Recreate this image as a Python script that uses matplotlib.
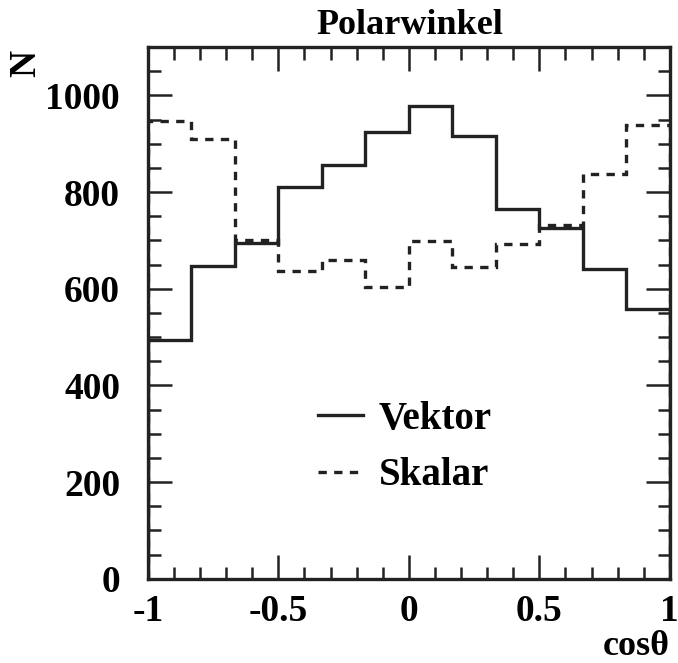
import numpy as np
import matplotlib.pyplot as plt
from matplotlib.ticker import MultipleLocator

# bin edges in cos(theta): 12 bins from -1 to 1
edges = np.linspace(-1, 1, 13)
vektor = [493, 647, 695, 810, 857, 924, 979, 915, 764, 726, 640, 558]
skalar = [948, 909, 700, 637, 659, 604, 698, 644, 693, 732, 838, 938]

xticks = [-1, -0.5, 0, 0.5, 1]
xticklabels = ['-1', '-0.5', '0', '0.5', '1']
yticks = [0, 200, 400, 600, 800, 1000]

plt.rcParams['font.family'] = ['Liberation Serif', 'DejaVu Serif']
plt.rcParams['font.weight'] = 'bold'

fig = plt.figure(figsize=(6.78, 6.63), dpi=100)
ax = fig.add_axes([0.218, 0.127, 0.770, 0.802])

ax.stairs(vektor, edges, color='#222222', lw=2.4, label='Vektor')
ax.stairs(skalar, edges, color='#222222', lw=2.4, linestyle=(0, (2.5, 2.2)), label='Skalar')

ax.set_xlim(-1, 1)
ax.set_ylim(0, 1100)
ax.set_xticks(xticks)
ax.set_xticklabels(xticklabels)
ax.set_yticks(yticks)
ax.xaxis.set_minor_locator(MultipleLocator(0.1))
ax.yaxis.set_minor_locator(MultipleLocator(50))
ax.tick_params(which='both', direction='in', top=True, right=True, width=1.8, color='#222222')
ax.tick_params(which='major', length=17)
ax.tick_params(which='minor', length=9)
ax.tick_params(axis='y', labelsize=27, pad=20)
ax.tick_params(axis='x', labelsize=27, pad=11)
for lab in ax.get_xticklabels() + ax.get_yticklabels():
    lab.set_fontweight('bold')
for sp in ax.spines.values():
    sp.set_linewidth(2.4)
    sp.set_color('#222222')

fig.text(0.605, 0.962, 'Polarwinkel', ha='center', va='center', fontsize=26, fontweight='bold')
fig.text(0.038, 0.905, 'N', ha='center', va='center', rotation=90, fontsize=27, fontweight='bold')
fig.text(0.988, 0.012, 'cosθ', ha='right', va='baseline', fontsize=26, fontweight='bold')

ax.legend(loc='center left', bbox_to_anchor=(0.326, 0.247), frameon=False, fontsize=28,
          borderpad=0, borderaxespad=0,
          handlelength=1.15, handletextpad=0.42, labelspacing=0.5)

fig.savefig('out.png', dpi=100)
